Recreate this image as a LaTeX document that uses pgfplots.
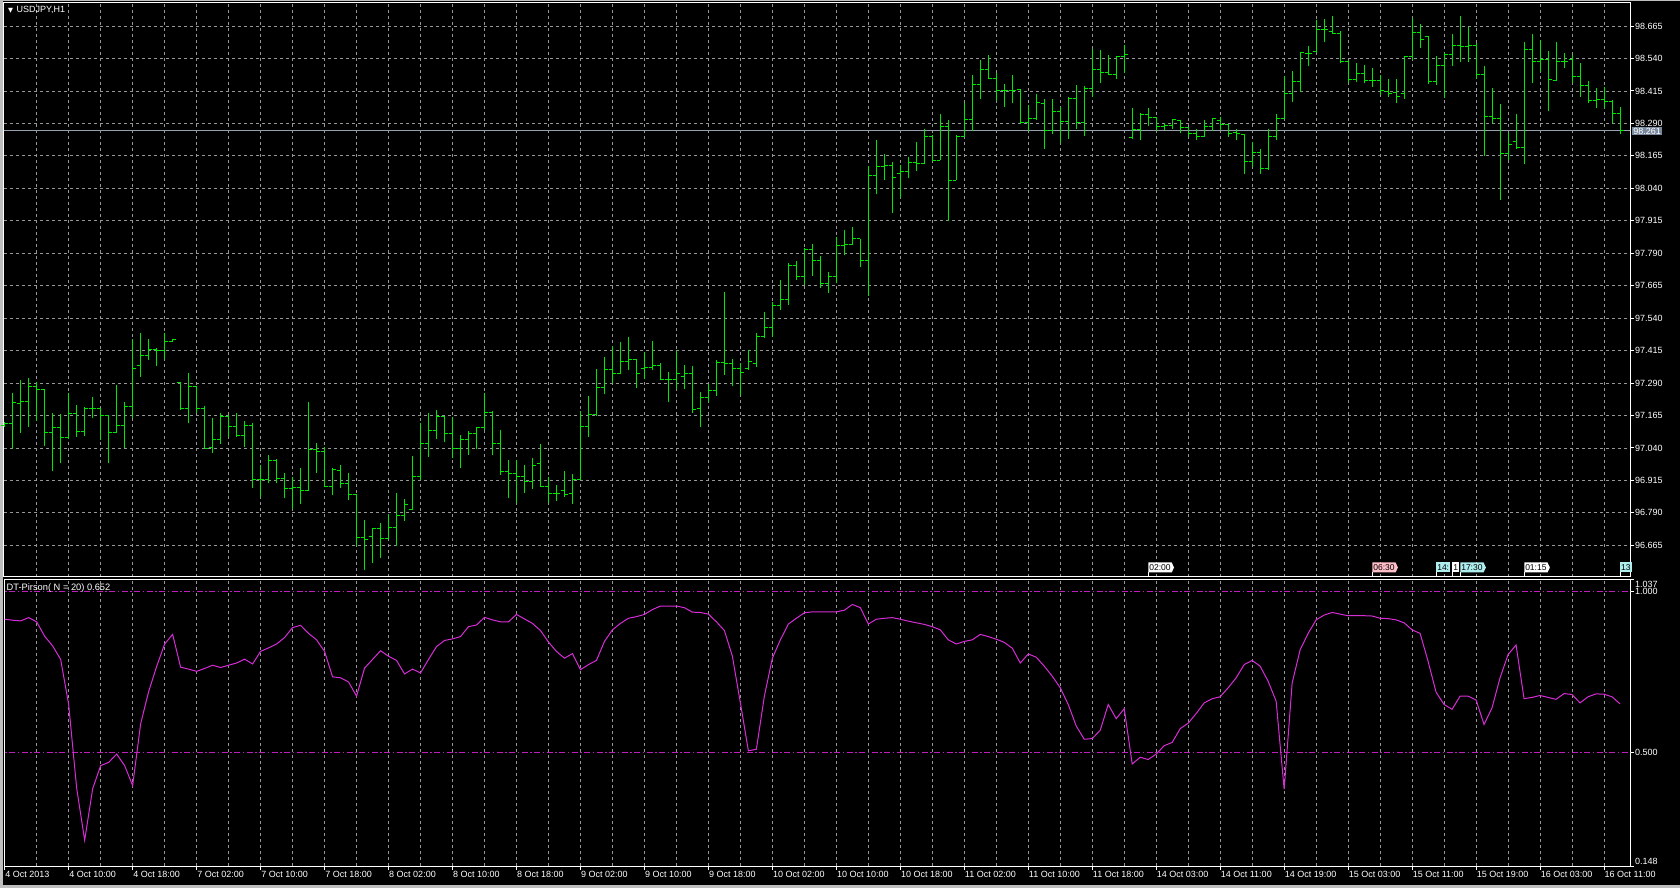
\documentclass[border=0pt]{standalone}
\usepackage{fontspec}
\setmainfont{Liberation Sans}
\newfontfamily\dejavu{DejaVu Sans}
\usepackage{pgfplots}
\pgfplotsset{compat=1.18}
\usepackage{pgfplotstable}
\usetikzlibrary{shapes.symbols}

\definecolor{barc}{RGB}{0,230,0}
\definecolor{gridc}{RGB}{150,150,150}
\definecolor{pirc}{RGB}{215,45,215}
\definecolor{levc}{RGB}{190,30,190}
\definecolor{bidc}{RGB}{150,160,175}
\definecolor{bidbox}{RGB}{120,136,156}
\definecolor{framec}{RGB}{190,190,190}
\definecolor{flagpink}{RGB}{255,190,200}
\definecolor{flagcyan}{RGB}{175,238,238}

\pgfdeclareplotmark{otick}{\pgfpathmoveto{\pgfqpoint{-3.5pt}{0pt}}\pgfpathlineto{\pgfqpoint{0pt}{0pt}}\pgfusepathqstroke}
\pgfdeclareplotmark{ctick}{\pgfpathmoveto{\pgfqpoint{0pt}{0pt}}\pgfpathlineto{\pgfqpoint{3.5pt}{0pt}}\pgfusepathqstroke}

\newcommand{\flag}[3]{%
  \draw[white, line width=1pt] (axis cs:#1,96.543) -- ([yshift=4.5pt]axis cs:#1,96.543);
  \node[signal, signal to=east, signal pointer angle=130, fill=#3, text=black,
        inner xsep=1pt, inner ysep=0.6pt, minimum height=10pt,
        font=\fontsize{8.5}{9}\selectfont, anchor=south west]
        at ([yshift=4.3pt]axis cs:#1,96.543) {#2};
}
\newcommand{\boxflag}[3]{%
  \draw[white, line width=1pt] (axis cs:#1,96.543) -- ([yshift=4.5pt]axis cs:#1,96.543);
  \node[rectangle, fill=#3, text=black,
        inner xsep=1pt, inner ysep=0.6pt, minimum height=10pt,
        font=\fontsize{8.5}{9}\selectfont, anchor=south west]
        at ([yshift=4.3pt]axis cs:#1,96.543) {#2};
}

\pgfplotstableread{
k o h l c
0 97.125 97.140 97.120 97.135
1 97.133 97.251 97.035 97.215
2 97.212 97.302 97.099 97.219
3 97.219 97.309 97.122 97.277
4 97.277 97.296 97.142 97.264
5 97.264 97.266 97.049 97.101
6 97.101 97.174 96.953 97.119
7 97.119 97.170 96.984 97.081
8 97.081 97.251 97.074 97.174
9 97.174 97.206 97.084 97.103
10 97.103 97.197 97.088 97.193
11 97.193 97.236 97.155 97.193
12 97.193 97.193 97.071 97.164
13 97.164 97.164 96.984 97.101
14 97.101 97.283 97.097 97.125
15 97.125 97.218 97.039 97.200
16 97.200 97.459 97.155 97.347
17 97.356 97.482 97.315 97.396
18 97.396 97.459 97.379 97.421
19 97.421 97.424 97.354 97.415
20 97.415 97.482 97.382 97.450
21 97.452 97.459 97.450 97.459
22 97.292 97.296 97.187 97.191
23 97.193 97.328 97.138 97.277
24 97.277 97.279 97.174 97.193
25 97.193 97.202 97.039 97.039
26 97.042 97.155 97.020 97.074
27 97.074 97.176 97.056 97.161
28 97.161 97.167 97.081 97.122
29 97.122 97.174 97.084 97.087
30 97.087 97.142 97.045 97.125
31 97.125 97.138 96.885 96.919
32 96.919 96.975 96.850 96.919
33 96.919 97.011 96.904 96.990
34 96.990 96.997 96.904 96.923
35 96.923 96.943 96.846 96.885
36 96.885 96.927 96.804 96.887
37 96.887 96.962 96.823 96.878
38 96.878 97.218 96.876 97.035
39 97.033 97.058 96.945 97.026
40 97.026 97.042 96.891 96.891
41 96.891 96.962 96.859 96.958
42 96.955 96.975 96.885 96.902
43 96.902 96.943 96.840 96.859
44 96.859 96.859 96.664 96.696
45 96.696 96.763 96.570 96.688
46 96.699 96.733 96.598 96.731
47 96.731 96.750 96.615 96.692
48 96.692 96.785 96.688 96.735
49 96.735 96.866 96.664 96.778
50 96.778 96.844 96.759 96.821
51 96.804 97.009 96.801 96.930
52 96.929 97.135 96.917 97.058
53 97.058 97.173 97.006 97.107
54 97.107 97.186 97.073 97.160
55 97.160 97.163 97.064 97.096
56 97.096 97.160 97.000 97.038
57 97.038 97.090 96.961 97.073
58 97.073 97.107 97.013 97.096
59 97.096 97.122 97.035 97.119
60 97.119 97.250 97.109 97.178
61 97.178 97.183 97.013 97.058
62 97.058 97.109 96.936 96.949
63 96.949 96.994 96.846 96.942
64 96.942 96.994 96.827 96.929
65 96.929 96.974 96.865 96.910
66 96.910 97.000 96.881 96.974
67 96.981 97.054 96.893 96.893
68 96.893 96.927 96.827 96.863
69 96.863 96.897 96.836 96.865
70 96.878 96.951 96.852 96.860
71 96.865 96.940 96.824 96.919
72 96.919 97.182 96.917 97.124
73 97.124 97.240 97.083 97.167
74 97.167 97.343 97.163 97.273
75 97.273 97.391 97.248 97.343
76 97.343 97.432 97.289 97.327
77 97.327 97.449 97.325 97.372
78 97.372 97.468 97.340 97.381
79 97.381 97.381 97.272 97.325
80 97.346 97.411 97.305 97.350
81 97.350 97.452 97.340 97.357
82 97.357 97.366 97.302 97.304
83 97.304 97.334 97.216 97.302
84 97.302 97.415 97.266 97.325
85 97.317 97.359 97.267 97.325
86 97.325 97.356 97.173 97.190
87 97.192 97.254 97.122 97.235
88 97.235 97.288 97.218 97.263
89 97.263 97.379 97.241 97.368
90 97.368 97.639 97.321 97.366
91 97.366 97.381 97.280 97.346
92 97.346 97.366 97.244 97.330
93 97.346 97.417 97.340 97.372
94 97.366 97.481 97.353 97.468
95 97.468 97.565 97.462 97.504
96 97.504 97.601 97.468 97.590
97 97.590 97.687 97.571 97.610
98 97.610 97.753 97.590 97.742
99 97.742 97.761 97.687 97.699
100 97.699 97.809 97.667 97.805
101 97.805 97.824 97.702 97.764
102 97.764 97.779 97.658 97.674
103 97.674 97.719 97.638 97.699
104 97.699 97.853 97.674 97.818
105 97.818 97.879 97.785 97.824
106 97.824 97.891 97.821 97.846
107 97.846 97.846 97.737 97.763
108 97.763 98.125 97.624 98.091
109 98.091 98.228 98.017 98.125
110 98.125 98.174 98.071 98.129
111 98.129 98.142 97.945 98.082
112 98.097 98.129 98.004 98.106
113 98.106 98.161 98.080 98.138
114 98.138 98.219 98.107 98.136
115 98.136 98.270 98.133 98.241
116 98.241 98.245 98.145 98.148
117 98.148 98.328 98.148 98.279
118 98.279 98.303 97.914 98.071
119 98.071 98.245 98.071 98.241
120 98.241 98.367 98.236 98.306
121 98.306 98.476 98.260 98.441
122 98.441 98.534 98.386 98.498
123 98.498 98.553 98.463 98.463
124 98.463 98.483 98.376 98.416
125 98.416 98.441 98.354 98.416
126 98.416 98.476 98.367 98.418
127 98.421 98.421 98.287 98.292
128 98.292 98.360 98.261 98.309
129 98.309 98.405 98.303 98.369
130 98.367 98.386 98.193 98.264
131 98.264 98.386 98.251 98.337
132 98.337 98.354 98.213 98.296
133 98.296 98.390 98.232 98.386
134 98.386 98.438 98.270 98.292
135 98.292 98.434 98.241 98.425
136 98.425 98.575 98.390 98.498
137 98.498 98.573 98.444 98.485
138 98.485 98.553 98.476 98.480
139 98.480 98.549 98.463 98.549
140 98.549 98.594 98.485 98.557
141 98.236 98.348 98.232 98.267
142 98.267 98.331 98.226 98.326
143 98.326 98.348 98.279 98.313
144 98.313 98.313 98.261 98.279
145 98.279 98.292 98.264 98.283
146 98.283 98.309 98.270 98.305
147 98.303 98.305 98.254 98.274
148 98.274 98.277 98.238 98.251
149 98.251 98.267 98.226 98.238
150 98.238 98.305 98.238 98.279
151 98.279 98.309 98.261 98.309
152 98.303 98.316 98.264 98.287
153 98.287 98.287 98.238 98.251
154 98.254 98.267 98.226 98.251
155 98.249 98.251 98.094 98.142
156 98.142 98.219 98.123 98.180
157 98.180 98.190 98.097 98.116
158 98.116 98.267 98.112 98.238
159 98.241 98.326 98.226 98.309
160 98.309 98.472 98.309 98.405
161 98.405 98.493 98.373 98.453
162 98.453 98.564 98.412 98.562
163 98.560 98.588 98.512 98.560
164 98.566 98.688 98.560 98.652
165 98.650 98.691 98.605 98.650
166 98.643 98.704 98.633 98.637
167 98.637 98.646 98.521 98.528
168 98.528 98.534 98.444 98.459
169 98.459 98.524 98.450 98.483
170 98.483 98.515 98.444 98.457
171 98.457 98.502 98.431 98.457
172 98.457 98.476 98.399 98.416
173 98.412 98.463 98.390 98.405
174 98.408 98.461 98.369 98.393
175 98.405 98.549 98.386 98.547
176 98.547 98.695 98.534 98.641
177 98.641 98.673 98.579 98.614
178 98.624 98.627 98.441 98.450
179 98.453 98.549 98.438 98.512
180 98.512 98.560 98.389 98.557
181 98.557 98.634 98.512 98.592
182 98.592 98.704 98.525 98.588
183 98.588 98.662 98.525 98.589
184 98.589 98.601 98.463 98.480
185 98.480 98.511 98.164 98.318
186 98.318 98.425 98.290 98.309
187 98.309 98.364 97.994 98.174
188 98.174 98.254 98.148 98.210
189 98.219 98.328 98.193 98.196
190 98.196 98.605 98.132 98.575
191 98.575 98.634 98.444 98.530
192 98.530 98.611 98.489 98.537
193 98.537 98.570 98.337 98.459
194 98.457 98.605 98.454 98.528
195 98.528 98.562 98.502 98.528
196 98.537 98.553 98.447 98.472
197 98.472 98.521 98.393 98.438
198 98.438 98.454 98.367 98.377
199 98.380 98.425 98.348 98.382
200 98.382 98.429 98.348 98.373
201 98.373 98.382 98.290 98.328
202 98.328 98.354 98.249 98.261
}\bars

\pgfplotstableread{
k v
0 0.915
1 0.912
2 0.910
3 0.920
4 0.907
5 0.862
6 0.832
7 0.790
8 0.650
9 0.390
10 0.228
11 0.388
12 0.460
13 0.470
14 0.496
15 0.460
16 0.398
17 0.590
18 0.690
19 0.768
20 0.838
21 0.868
22 0.766
23 0.760
24 0.753
25 0.762
26 0.772
27 0.765
28 0.772
29 0.779
30 0.791
31 0.776
32 0.815
33 0.826
34 0.838
35 0.858
36 0.889
37 0.896
38 0.871
39 0.851
40 0.815
41 0.736
42 0.733
43 0.720
44 0.676
45 0.763
46 0.790
47 0.817
48 0.800
49 0.787
50 0.745
51 0.760
52 0.748
53 0.790
54 0.830
55 0.849
56 0.854
57 0.861
58 0.892
59 0.897
60 0.921
61 0.913
62 0.907
63 0.907
64 0.930
65 0.916
66 0.902
67 0.880
68 0.844
69 0.815
70 0.794
71 0.808
72 0.758
73 0.774
74 0.787
75 0.846
76 0.882
77 0.902
78 0.918
79 0.923
80 0.930
81 0.945
82 0.956
83 0.956
84 0.956
85 0.951
86 0.937
87 0.936
88 0.931
89 0.907
90 0.880
91 0.800
92 0.655
93 0.506
94 0.511
95 0.676
96 0.794
97 0.851
98 0.900
99 0.918
100 0.935
101 0.938
102 0.938
103 0.938
104 0.938
105 0.943
106 0.961
107 0.951
108 0.900
109 0.915
110 0.918
111 0.920
112 0.915
113 0.909
114 0.904
115 0.899
116 0.892
117 0.882
118 0.851
119 0.838
120 0.846
121 0.851
122 0.868
123 0.861
124 0.853
125 0.843
126 0.825
127 0.779
128 0.807
129 0.797
130 0.769
131 0.738
132 0.702
133 0.650
134 0.583
135 0.542
136 0.544
137 0.570
138 0.650
139 0.606
140 0.637
141 0.465
142 0.486
143 0.479
144 0.496
145 0.522
146 0.532
147 0.575
148 0.592
149 0.622
150 0.655
151 0.668
152 0.674
153 0.702
154 0.733
155 0.774
156 0.787
157 0.769
158 0.722
159 0.660
160 0.386
161 0.717
162 0.820
163 0.871
164 0.913
165 0.928
166 0.936
167 0.931
168 0.926
169 0.926
170 0.926
171 0.925
172 0.918
173 0.917
174 0.913
175 0.904
176 0.882
177 0.871
178 0.784
179 0.688
180 0.650
181 0.635
182 0.676
183 0.676
184 0.664
185 0.588
186 0.640
187 0.733
188 0.805
189 0.835
190 0.668
191 0.672
192 0.678
193 0.672
194 0.666
195 0.684
196 0.681
197 0.655
198 0.674
199 0.683
200 0.682
201 0.674
202 0.652
}\pir

\pgfplotsset{
  mtaxis/.style={
    scale only axis, clip mode=individual,
    axis line style={white, line width=1pt},
    xmin=-0.0875, xmax=203.25,
    minor xtick={4,8,...,200},
    xminorgrids=true,
    minor grid style={gridc, dash pattern=on 3pt off 3pt, line width=0.8pt},
    major grid style={gridc, dash pattern=on 3pt off 3pt, line width=0.8pt},
    minor tick length=0pt,
    major tick length=4pt,
    tick align=outside,
    ytick pos=right, yticklabel pos=right,
    xtick pos=left,
    tick style={white, line width=1pt},
    tick label style={text=white, font=\fontsize{9}{10}\selectfont},
    yticklabel style={anchor=west, inner sep=0pt, xshift=1pt},
    /pgf/number format/fixed,
    /pgf/number format/fixed zerofill,
    /pgf/number format/precision=3,
    /pgf/number format/assume math mode=true,
  }
}

\begin{document}
\begin{tikzpicture}
\fill[black] (0,0) rectangle (1680pt,888pt);
\fill[framec] (0,0) rectangle (2.5pt,888pt);
\fill[framec] (0,0) rectangle (1680pt,3pt);
\fill[framec] (0,887pt) rectangle (1680pt,888pt);

% ---------- main price panel ----------
\begin{axis}[mtaxis,
  at={(4pt,311pt)}, anchor=south west,
  width=1626pt, height=574pt,
  ymin=96.543, ymax=98.754,
  xtick={4,8,...,200}, xticklabels={},
  xmajorgrids=true, xminorgrids=false,
  xtick style={draw=none},
  ytick={96.665,96.790,96.915,97.040,97.165,97.290,97.415,97.540,97.665,97.790,97.915,98.040,98.165,98.290,98.415,98.540,98.665},
  ymajorgrids=true,
]
\addplot[bidc, line width=1pt, forget plot] coordinates {(-1,98.261) (204,98.261)};
\addplot[barc, line width=1pt, forget plot, mark=none,
  quiver={u=0, v=\thisrow{h}-\thisrow{l}}]
  table[x=k, y=l] {\bars};
\addplot[only marks, mark=otick, mark options={draw=barc, line width=1pt}, forget plot]
  table[x=k, y=o] {\bars};
\addplot[only marks, mark=ctick, mark options={draw=barc, line width=1pt}, forget plot]
  table[x=k, y=c] {\bars};

% event flags
\flag{143}{02:00}{white}
\flag{171}{06:30}{flagpink}
\boxflag{179}{14:}{flagcyan}
\boxflag{181}{1}{white}
\flag{182}{17:30}{flagcyan}
\flag{190}{01:15}{white}
\boxflag{202}{13}{flagcyan}

\node[fill=bidbox, text=white, inner xsep=1.5pt, inner ysep=1pt, anchor=west,
      font=\fontsize{9}{10}\selectfont]
      at ([xshift=1.6pt]axis cs:203.25,98.261) {98.261};
\end{axis}

% ---------- indicator panel ----------
\begin{axis}[mtaxis,
  at={(4pt,22pt)}, anchor=south west,
  width=1626pt, height=286pt,
  ymin=0.148, ymax=1.037,
  ytick={0.148,0.5,1,1.037},
  yticklabels={{},{0.500},{1.000},{}},
  xtick={0,8,...,200},
  xticklabels={4 Oct 2013,4 Oct 10:00,4 Oct 18:00,7 Oct 02:00,7 Oct 10:00,7 Oct 18:00,8 Oct 02:00,8 Oct 10:00,8 Oct 18:00,9 Oct 02:00,9 Oct 10:00,9 Oct 18:00,10 Oct 02:00,10 Oct 10:00,10 Oct 18:00,11 Oct 02:00,11 Oct 10:00,11 Oct 18:00,14 Oct 03:00,14 Oct 11:00,14 Oct 19:00,15 Oct 03:00,15 Oct 11:00,15 Oct 19:00,16 Oct 03:00,16 Oct 11:00},
  xticklabel style={anchor=north west, inner sep=0pt, xshift=0.5pt, yshift=-1pt},
]
\addplot[levc, line width=1pt, dash pattern=on 6pt off 2.5pt on 1.5pt off 2.5pt, forget plot] coordinates {(-1,1) (204,1)};
\addplot[levc, line width=1pt, dash pattern=on 6pt off 2.5pt on 1.5pt off 2.5pt, forget plot] coordinates {(-1,0.5) (204,0.5)};
\addplot[pirc, line width=1pt, forget plot] table[x=k, y=v] {\pir};

\node[text=white, anchor=west, inner sep=0pt, font=\fontsize{9}{10}\selectfont]
  at ([xshift=5pt, yshift=-4pt]axis cs:203.25,1.037) {1.037};
\node[text=white, anchor=west, inner sep=0pt, font=\fontsize{9}{10}\selectfont]
  at ([xshift=5pt, yshift=5pt]axis cs:203.25,0.148) {0.148};
\end{axis}

% titles
\node[anchor=west, text=white, inner sep=0pt, font=\fontsize{9}{10}\selectfont]
  at (8pt,877.7pt) {{\dejavu\fontsize{6.5}{7}\selectfont ▼}\hspace{3.5pt}USDJPY,H1};
\node[anchor=west, text=white, inner sep=0pt, font=\fontsize{9.3}{10}\selectfont]
  at (6.5pt,299.5pt) {DT-Pirson( N = 20) 0.652};

\pgfresetboundingbox
\path[use as bounding box] (0,0) rectangle (1680pt,888pt);
\end{tikzpicture}
\end{document}
